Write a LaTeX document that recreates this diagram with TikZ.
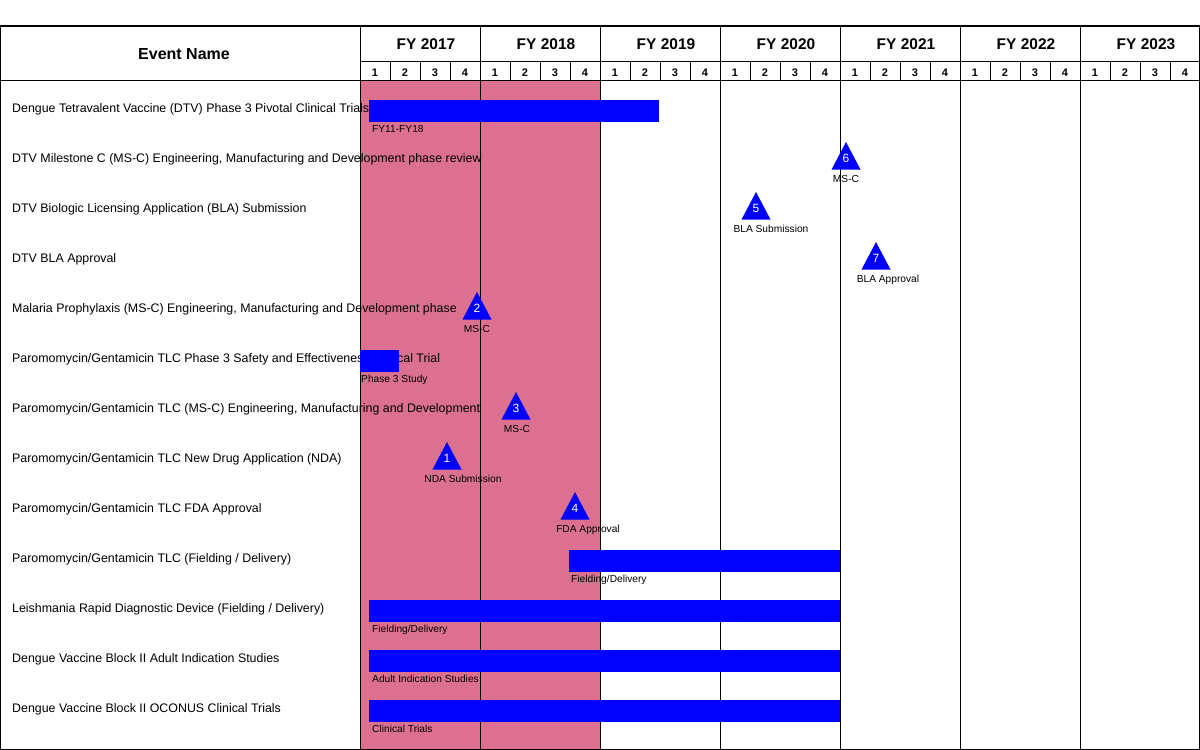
\documentclass[tikz,border=0pt]{standalone}
\usepackage{fontspec}
\setmainfont{Liberation Sans}
\usetikzlibrary{positioning}
\definecolor{pinkband}{RGB}{219,112,145}
\definecolor{barblue}{RGB}{0,0,255}

\begin{document}
\begin{tikzpicture}[x=1pt,y=-1pt,
  gridline/.style={line width=1pt},
  frameline/.style={line width=1.4pt},
  headfont/.style={font=\fontsize{16}{18}\selectfont\bfseries, inner sep=0pt},
  fyhead/.style={font=\fontsize{15.5}{18}\selectfont\bfseries, inner sep=0pt},
  qhead/.style={font=\fontsize{11}{13}\selectfont\bfseries, inner sep=0pt},
  rowlabel/.style={anchor=base west, font=\fontsize{12.4}{14}\selectfont, inner sep=0pt},
  barlabel/.style={anchor=base west, font=\fontsize{10.2}{12}\selectfont, inner sep=0pt},
  mslabel/.style={anchor=base, font=\fontsize{10.2}{12}\selectfont, inner sep=0pt},
  msnum/.style={anchor=base, text=white, font=\fontsize{12}{14}\selectfont, inner sep=0pt},
  taskbar/.style={fill=barblue}]

\useasboundingbox (0,0) rectangle (1200,750);

%---------------------------------------
% Shaded band (FY 2017 - FY 2018)
%---------------------------------------
\fill[pinkband] (360,80.5) rectangle (600,749.5);

%---------------------------------------
% Header: event column, years, quarters
%---------------------------------------
\node[headfont] (evhead) at (184,54) {Event Name};

\draw[gridline] (360,61) -- (1199.5,61);
\draw[gridline] (0.5,80.5) -- (1199.5,80.5);

\foreach \i in {0,...,6} {
  \pgfmathtruncatemacro{\yr}{2017+\i}
  \pgfmathsetmacro{\xl}{360+120*\i}
  \node[fyhead] (fy\yr) at ({\xl+66},44) {FY \yr};
  \draw[gridline] (\xl,26) -- (\xl,749.5);
  \foreach \q in {1,...,4}
    \node[qhead] (q\yr-\q) at ({\xl+30*\q-15},72.5) {\q};
  \foreach \q in {1,2,3}
    \draw[gridline] ({\xl+30*\q},61) -- ({\xl+30*\q},80.5);
}

%---------------------------------------
% Event names (one row = 50)
%---------------------------------------
\foreach \n/\txt in {
  1/{Dengue Tetravalent Vaccine (DTV) Phase 3 Pivotal Clinical Trials},
  2/{DTV Milestone C (MS-C) Engineering, Manufacturing and Development phase review},
  3/{DTV Biologic Licensing Application (BLA) Submission},
  4/{DTV BLA Approval},
  5/{Malaria Prophylaxis (MS-C) Engineering, Manufacturing and Development phase},
  6/{Paromomycin/Gentamicin TLC Phase 3 Safety and Effectiveness Clinical Trial},
  7/{Paromomycin/Gentamicin TLC (MS-C) Engineering, Manufacturing and Development},
  8/{Paromomycin/Gentamicin TLC New Drug Application (NDA)},
  9/{Paromomycin/Gentamicin TLC FDA Approval},
  10/{Paromomycin/Gentamicin TLC (Fielding / Delivery)},
  11/{Leishmania Rapid Diagnostic Device (Fielding / Delivery)},
  12/{Dengue Vaccine Block II Adult Indication Studies},
  13/{Dengue Vaccine Block II OCONUS Clinical Trials}} {
  \pgfmathsetmacro{\rtop}{80+50*(\n-1)}
  \node[rowlabel] (ev\n) at (12,{\rtop+32}) {\txt};
}

%---------------------------------------
% Task bars
%---------------------------------------
\foreach \n/\xa/\xb/\txt/\lx in {
  1/369/659/{FY11-FY18}/372,
  6/360/399/{Phase 3 Study}/361,
  10/569/839.5/{Fielding/Delivery}/571,
  11/369/839.5/{Fielding/Delivery}/372,
  12/369/839.5/{Adult Indication Studies}/372,
  13/369/839.5/{Clinical Trials}/372} {
  \pgfmathsetmacro{\rtop}{80+50*(\n-1)}
  \fill[taskbar] (\xa,{\rtop+20}) rectangle (\xb,{\rtop+42});
  \node[barlabel] (bl\n) at (\lx,{\rtop+52}) {\txt};
}

%---------------------------------------
% Milestones (numbered triangles)
%---------------------------------------
\foreach \n/\num/\xc/\txt/\lc in {
  2/6/846/{MS-C}/846,
  3/5/756/{BLA Submission}/771,
  4/7/876/{BLA Approval}/888,
  5/2/477/{MS-C}/477,
  7/3/516/{MS-C}/517,
  8/1/447/{NDA Submission}/463,
  9/4/575/{FDA Approval}/588} {
  \pgfmathsetmacro{\rtop}{80+50*(\n-1)}
  \fill[barblue] (\xc,{\rtop+12}) -- ({\xc+14.5},{\rtop+39.5})
                 -- ({\xc-14.5},{\rtop+39.5}) -- cycle;
  \node[msnum] (ms\num) at (\xc,{\rtop+32}) {\num};
  \node[mslabel] (msl\num) at (\lc,{\rtop+52}) {\txt};
}

% Outer frame
\draw[frameline] (0.7,26) rectangle (1199.3,749.3);

\end{tikzpicture}
\end{document}
